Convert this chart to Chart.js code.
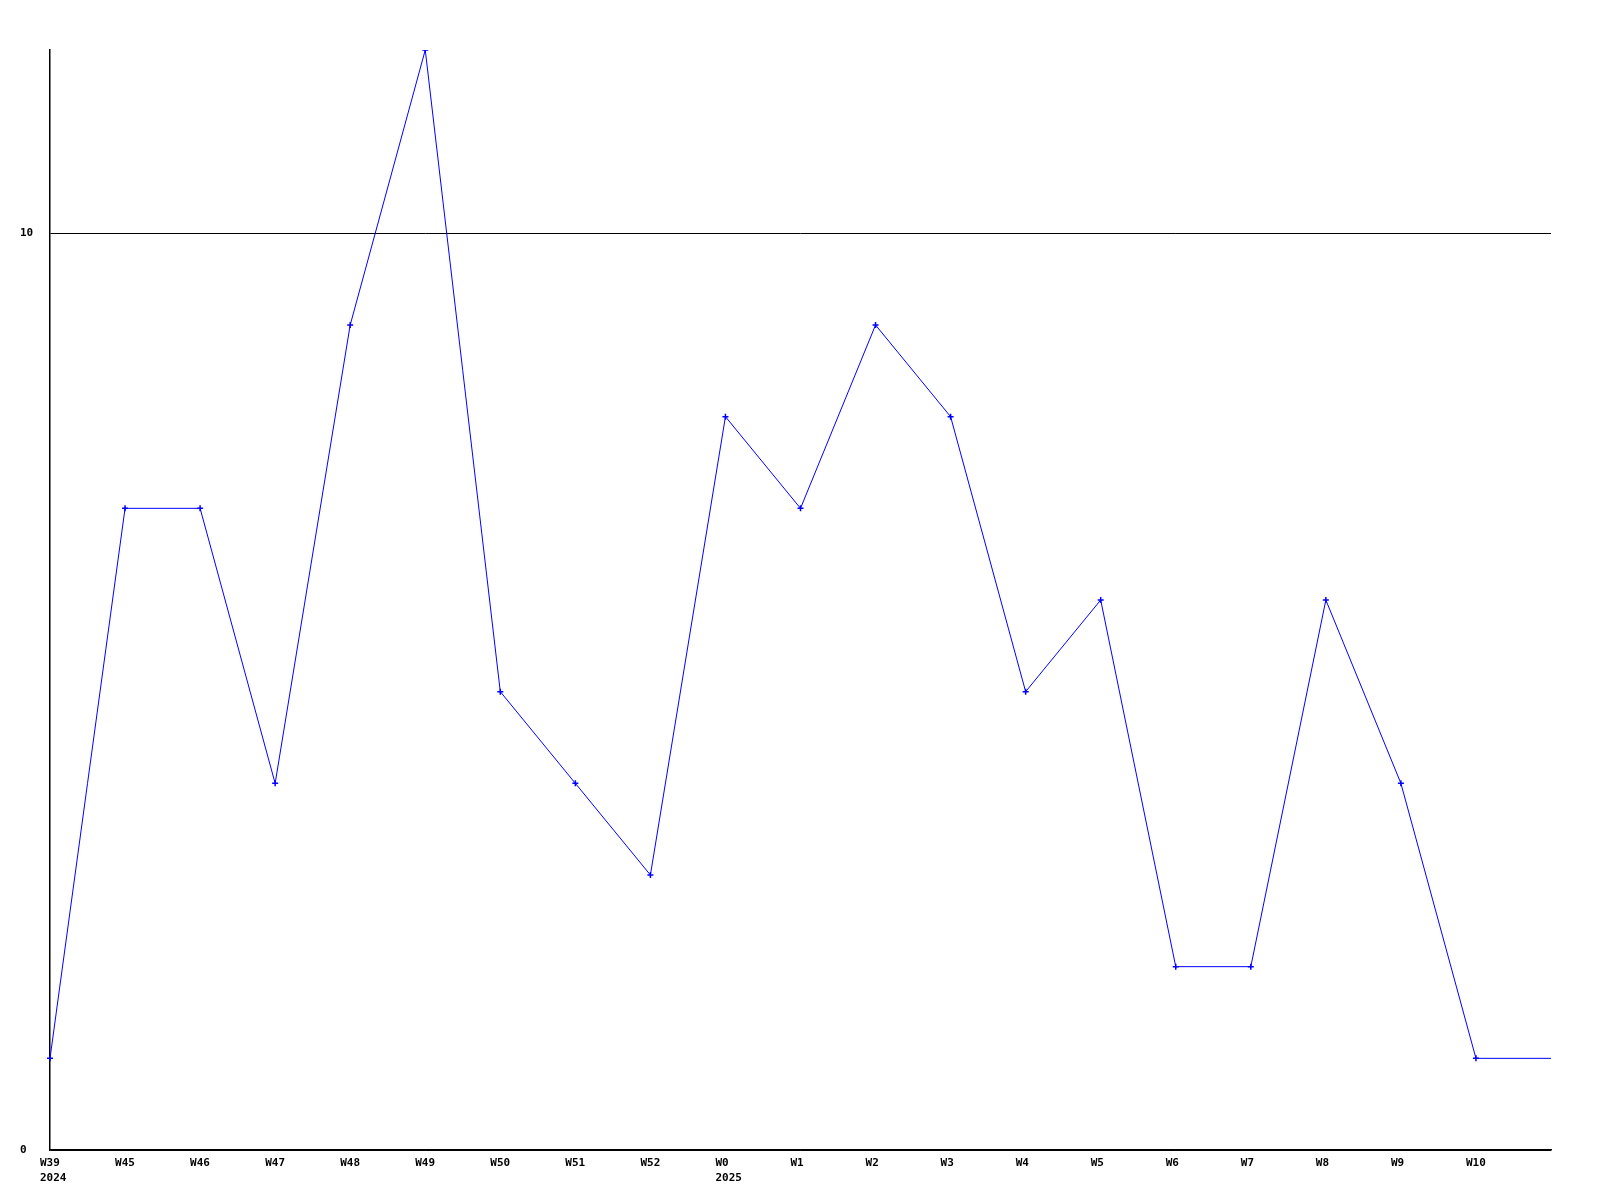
<!DOCTYPE html>
<html>
<head>
<meta charset="utf-8">
<script src="https://cdn.jsdelivr.net/npm/chart.js@4"></script>
<style>
html,body{margin:0;padding:0;background:#fff;}
#wrap{width:1600px;height:1200px;}
</style>
</head>
<body>
<div id="wrap"><canvas id="c" width="1600" height="1200"></canvas></div>
<script>
const categories = [["W39","2024"],"W45","W46","W47","W48","W49","W50","W51","W52",["W0","2025"],"W1","W2","W3","W4","W5","W6","W7","W8","W9","W10",""];
const values = [1,7,7,4,9,12,5,4,3,8,7,9,8,5,6,2,2,6,4,1,1];
const yTicks = [0,10];
const yMax = 12;
const lastHasMarker = false;

const pointRadii = values.map((v,i)=> (i === values.length-1 && !lastHasMarker) ? 0 : 3);
const FONT = {family: "'DejaVu Sans Mono', monospace", size: 11, weight: 'bold', lineHeight: 1.36};

new Chart(document.getElementById('c'), {
  type: 'line',
  data: {
    labels: categories,
    datasets: [{
      data: values,
      borderColor: '#0000ff',
      backgroundColor: '#0000ff',
      borderWidth: 1,
      pointStyle: 'cross',
      pointRadius: pointRadii,
      pointBorderWidth: 1.5,
      pointHoverRadius: 0,
      tension: 0,
      fill: false
    }]
  },
  options: {
    responsive: false,
    animation: false,
    devicePixelRatio: 1,
    layout: {padding: {left: 20, right: 49, top: 50, bottom: 0}},
    plugins: {legend: {display: false}, tooltip: {enabled: false}},
    scales: {
      x: {
        offset: false,
        grid: {display: false, drawTicks: false},
        border: {display: true, color: '#000', width: 1.5},
        ticks: {
          color: '#000', font: FONT, autoSkip: false, maxRotation: 0,
          align: 'start', labelOffset: -10, padding: 6
        },
        afterFit: s => { s.height = 50; }
      },
      y: {
        min: 0, max: yMax,
        afterBuildTicks: s => { s.ticks = yTicks.map(v => ({value: v})); },
        grid: {color: '#000', lineWidth: 1, drawTicks: false},
        border: {display: true, color: '#000', width: 1.5},
        ticks: {color: '#000', font: FONT, crossAlign: 'far', padding: 4},
        afterFit: s => { s.width = 30; }
      }
    }
  }
});
</script>
</body>
</html>
